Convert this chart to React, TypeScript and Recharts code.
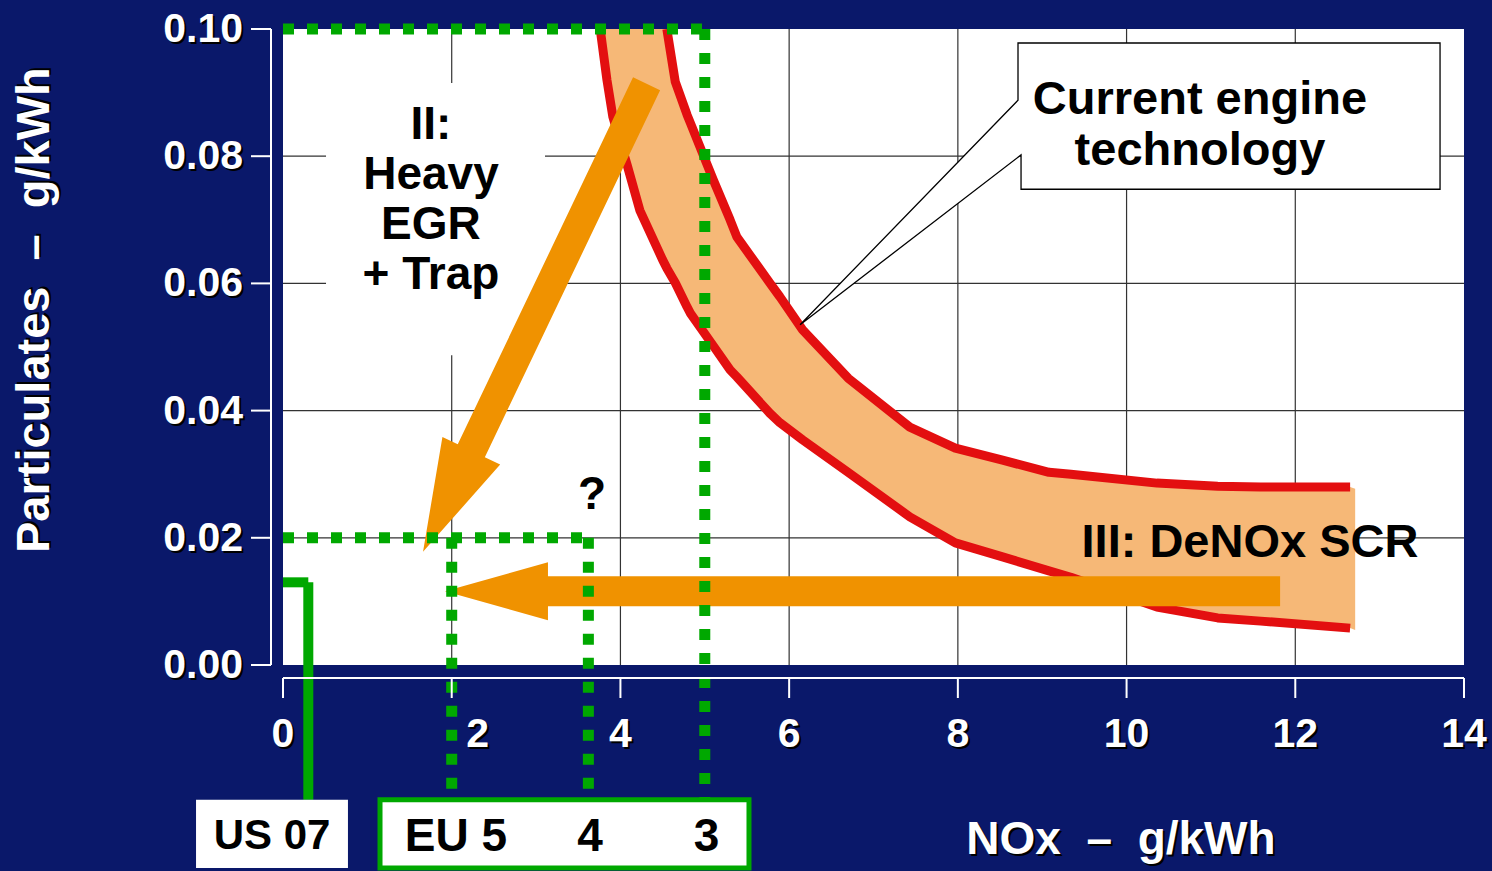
import React from 'react';
import {
  ComposedChart,
  XAxis,
  YAxis,
  CartesianGrid,
  Area,
  Line,
  ReferenceLine,
  ReferenceArea,
  ReferenceDot,
} from 'recharts';

// ---------- data ----------
const NOX_TICKS = [0, 2, 4, 6, 8, 10, 12, 14];
const PM_TICKS = [0, 0.02, 0.04, 0.06, 0.08, 0.1];
const GRID_NOX = [2, 4, 6, 8, 10, 12];
const GRID_PM = [0.02, 0.04, 0.06, 0.08];

// "Current engine technology" band (NOx g/kWh -> PM g/kWh)
const BAND_NOX = [3.76, 3.84, 3.91, 4.08, 4.23, 4.5, 4.55, 4.65, 4.79, 4.83, 5.1, 5.3, 5.38, 5.77, 5.89, 6.16, 6.7, 7.43, 7.97, 8.53, 9.08, 9.34, 10.36, 11.08, 11.59, 12.65, 12.71];
const LOWER_CURVE = [0.1, 0.092, 0.0862, 0.0786, 0.0715, 0.0637, 0.0624, 0.0601, 0.0563, 0.0553, 0.0502, 0.0464, 0.0453, 0.0396, 0.0381, 0.0354, 0.0303, 0.0233, 0.0192, 0.017, 0.0148, 0.0138, 0.0091, 0.0074, 0.0069, 0.0058, null];
const UPPER_CURVE = [null, null, null, null, null, null, 0.1, 0.0917, 0.0865, 0.0852, 0.0763, 0.07, 0.0673, 0.0601, 0.0579, 0.0527, 0.0451, 0.0374, 0.0341, 0.0322, 0.0303, 0.03, 0.0286, 0.0281, 0.028, 0.028, null];
const BAND_LOW = [0.1, 0.092, 0.0862, 0.0786, 0.0715, 0.0637, 0.0624, 0.0601, 0.0563, 0.0553, 0.0502, 0.0464, 0.0453, 0.0396, 0.0381, 0.0354, 0.0303, 0.0233, 0.0192, 0.017, 0.0148, 0.0138, 0.0091, 0.0074, 0.0069, 0.0058, 0.0055];
const BAND_HIGH = [0.1, 0.1, 0.1, 0.1, 0.1, 0.1, 0.1, 0.0917, 0.0865, 0.0852, 0.0763, 0.07, 0.0673, 0.0601, 0.0579, 0.0527, 0.0451, 0.0374, 0.0341, 0.0322, 0.0303, 0.03, 0.0286, 0.0281, 0.028, 0.028, 0.0277];

// emission limits
const EU_LABELS = ['EU 5', '4', '3'];
const EU_NOX = [2.0, 3.62, 5.0];
const EU_PM = [0.02, 0.02, 0.1];
const US07_NOX = 0.3;
const US07_PM = 0.013;

// arrows (tail -> tip)
const EGR_ARROW_NOX = [4.31, 1.66];
const EGR_ARROW_PM = [0.0914, 0.0178];
const SCR_ARROW_NOX = [11.82, 1.92];
const SCR_ARROW_PM = [0.0116, 0.0116];

// callout outline (data coords)
const CALLOUT_NOX = [6.13, 8.713, 8.713, 13.716, 13.716, 8.749, 8.749];
const CALLOUT_PM = [0.0535, 0.0888, 0.0978, 0.0978, 0.0748, 0.0748, 0.0802];

const rows = BAND_NOX.map((nox, i) => ({
  nox,
  lower: LOWER_CURVE[i],
  upper: UPPER_CURVE[i],
  band: [BAND_LOW[i], BAND_HIGH[i]],
}));

// ---------- style ----------
const NAVY = '#0a186a';
const ORANGE = '#f09200';
const BAND_FILL = '#f6b877';
const RED = '#e30f10';
const GREEN = '#00a800';
const FONT = '"Liberation Sans", Arial, Helvetica, sans-serif';
const W = 1492;
const H = 871;
const BOX_TOP = -0.0212;
const BOX_BOTTOM = -0.0319;
const NB = '\u00A0';

const ShadowText = ({ x, y, children, size, anchor = 'middle', rotate = 0 }: any) => (
  <g transform={rotate ? `rotate(${rotate} ${x} ${y})` : undefined}>
    <text x={x + 2} y={y + 2} fill="#000" fontFamily={FONT} fontWeight="bold" fontSize={size} textAnchor={anchor} dominantBaseline="central">
      {children}
    </text>
    <text x={x} y={y} fill="#fff" fontFamily={FONT} fontWeight="bold" fontSize={size} textAnchor={anchor} dominantBaseline="central">
      {children}
    </text>
  </g>
);

const YTick = (props: any) => {
  const { x, y, payload } = props;
  return (
    <g>
      <line x1={x + 8} y1={y} x2={x + 28} y2={y} stroke="#fff" strokeWidth={2} />
      <ShadowText x={x} y={y - 1} anchor="end" size={41}>
        {Number(payload.value).toFixed(2)}
      </ShadowText>
    </g>
  );
};

const XTick = (props: any) => {
  const { x, y, payload } = props;
  const dx = payload.value === 2 ? 26 : 0;
  return (
    <g>
      <line x1={x} y1={y + 13} x2={x} y2={y + 33} stroke="#fff" strokeWidth={2} />
      <ShadowText x={x + dx} y={y + 68} size={41}>
        {String(payload.value)}
      </ShadowText>
    </g>
  );
};

const arrowShape = (shaft: number, headW: number, headL: number) => (p: any) => {
  const { x1, y1, x2, y2 } = p;
  const dx = x2 - x1;
  const dy = y2 - y1;
  const L = Math.hypot(dx, dy) || 1;
  const ux = dx / L;
  const uy = dy / L;
  const nx = -uy;
  const ny = ux;
  const bx = x2 - ux * headL;
  const by = y2 - uy * headL;
  const pts = [
    [x1 + (nx * shaft) / 2, y1 + (ny * shaft) / 2],
    [bx + (nx * shaft) / 2, by + (ny * shaft) / 2],
    [bx + (nx * headW) / 2, by + (ny * headW) / 2],
    [x2, y2],
    [bx - (nx * headW) / 2, by - (ny * headW) / 2],
    [bx - (nx * shaft) / 2, by - (ny * shaft) / 2],
    [x1 - (nx * shaft) / 2, y1 - (ny * shaft) / 2],
  ]
    .map((q) => q.join(','))
    .join(' ');
  return <polygon points={pts} fill={ORANGE} stroke="none" />;
};

// polygon in data coordinates, converted with the two mapped endpoints of the segment
const calloutShape = (p: any) => {
  const { x1, y1, x2, y2 } = p;
  const a = 0;
  const b = 3;
  const sx = (x2 - x1) / (CALLOUT_NOX[b] - CALLOUT_NOX[a]);
  const sy = (y2 - y1) / (CALLOUT_PM[b] - CALLOUT_PM[a]);
  const pts = CALLOUT_NOX.map((n, i) => `${x1 + (n - CALLOUT_NOX[a]) * sx},${y1 + (CALLOUT_PM[i] - CALLOUT_PM[a]) * sy}`).join(' ');
  return <polygon points={pts} fill="#fff" stroke="#000" strokeWidth={1.3} />;
};

// straight axis lines, offset from the plot like the original
const axisLineShape = (dx: number, dy: number) => (p: any) => {
  const { x1, y1, x2, y2 } = p;
  return <line x1={x1 + dx} y1={y1 + dy} x2={x2 + dx} y2={y2 + dy} stroke="#fff" strokeWidth={2} />;
};

const textShape = (lines: string[], size: number, lineH: number, color = '#000', shadow = false, rotate = 0) => (p: any) => {
  const { cx, cy } = p;
  if (shadow) {
    return (
      <ShadowText x={cx} y={cy} size={size} rotate={rotate}>
        {lines[0]}
      </ShadowText>
    );
  }
  return (
    <g>
      {lines.map((t, i) => (
        <text
          key={i}
          x={cx}
          y={cy + i * lineH}
          fill={color}
          fontFamily={FONT}
          fontWeight="bold"
          fontSize={size}
          textAnchor="middle"
          dominantBaseline="central"
        >
          {t}
        </text>
      ))}
    </g>
  );
};

const dotted = { stroke: GREEN, strokeWidth: 11, strokeDasharray: '11 13' };

export default function App() {
  return (
    <div style={{ position: 'absolute', left: 0, top: 0, width: W, height: H, background: NAVY, overflow: 'hidden' }}>
      <ComposedChart width={W} height={H} data={rows} margin={{ top: 29, right: 28, bottom: 116, left: 223 }}>
        <CartesianGrid
          fill="#ffffff"
          fillOpacity={1}
          stroke="#333"
          strokeWidth={1.2}
          horizontalValues={GRID_PM}
          verticalValues={GRID_NOX}
        />
        <XAxis
          dataKey="nox"
          type="number"
          domain={[0, 14]}
          ticks={NOX_TICKS}
          interval={0}
          allowDataOverflow
          height={90}
          tickSize={0}
          tickMargin={0}
          axisLine={false}
          tickLine={false}
          tick={<XTick />}
        />
        <YAxis
          type="number"
          domain={[0, 0.1]}
          ticks={PM_TICKS}
          interval={0}
          allowDataOverflow
          width={60}
          tickSize={0}
          tickMargin={40}
          axisLine={false}
          tickLine={false}
          tick={<YTick />}
        />

        {/* axis lines */}
        <ReferenceLine segment={[{ x: 0, y: 0 }, { x: 0, y: 0.1 }]} ifOverflow="visible" shape={axisLineShape(-12, 0)} zIndex={500} />
        <ReferenceLine segment={[{ x: 0, y: 0 }, { x: 14, y: 0 }]} ifOverflow="visible" shape={axisLineShape(0, 13)} zIndex={500} />

        {/* white background behind the "II" label */}
        <ReferenceArea x1={0.51} x2={3.106} y1={0.0487} y2={0.0915} fill="#fff" fillOpacity={1} stroke="none" zIndex={50} />

        <Area type="linear" dataKey="band" fill={BAND_FILL} fillOpacity={1} stroke="none" isAnimationActive={false} zIndex={100} />
        <Line type="linear" dataKey="lower" stroke={RED} strokeWidth={9} dot={false} activeDot={false} strokeLinejoin="round" isAnimationActive={false} zIndex={400} />
        <Line type="linear" dataKey="upper" stroke={RED} strokeWidth={9} dot={false} activeDot={false} strokeLinejoin="round" isAnimationActive={false} zIndex={400} />

        {/* callout */}
        <ReferenceLine
          segment={[
            { x: CALLOUT_NOX[0], y: CALLOUT_PM[0] },
            { x: CALLOUT_NOX[3], y: CALLOUT_PM[3] },
          ]}
          ifOverflow="visible"
          shape={calloutShape}
          zIndex={450}
        />

        {/* arrows */}
        <ReferenceLine
          segment={[
            { x: EGR_ARROW_NOX[0], y: EGR_ARROW_PM[0] },
            { x: EGR_ARROW_NOX[1], y: EGR_ARROW_PM[1] },
          ]}
          ifOverflow="visible"
          shape={arrowShape(30, 64, 112)}
          zIndex={460}
        />
        <ReferenceLine
          segment={[
            { x: SCR_ARROW_NOX[0], y: SCR_ARROW_PM[0] },
            { x: SCR_ARROW_NOX[1], y: SCR_ARROW_PM[1] },
          ]}
          ifOverflow="visible"
          shape={arrowShape(30, 58, 103)}
          zIndex={460}
        />

        {/* EU limit lines */}
        <ReferenceLine segment={[{ x: 0, y: EU_PM[2] }, { x: EU_NOX[2], y: EU_PM[2] }]} ifOverflow="visible" {...dotted} zIndex={470} />
        <ReferenceLine segment={[{ x: 0, y: EU_PM[0] }, { x: EU_NOX[1], y: EU_PM[1] }]} ifOverflow="visible" {...dotted} zIndex={470} />
        {EU_NOX.map((n, i) => (
          <ReferenceLine key={'eu' + i} segment={[{ x: n, y: EU_PM[i] }, { x: n, y: BOX_TOP }]} ifOverflow="visible" {...dotted} zIndex={470} />
        ))}
        {/* US 07 limit */}
        <ReferenceLine segment={[{ x: 0, y: US07_PM }, { x: US07_NOX, y: US07_PM }]} ifOverflow="visible" stroke={GREEN} strokeWidth={10} zIndex={470} />
        <ReferenceLine segment={[{ x: US07_NOX, y: US07_PM }, { x: US07_NOX, y: BOX_TOP }]} ifOverflow="visible" stroke={GREEN} strokeWidth={10} zIndex={470} />

        {/* limit boxes */}
        <ReferenceArea x1={-1.031} x2={0.77} y1={BOX_TOP} y2={BOX_BOTTOM} ifOverflow="visible" fill="#fff" fillOpacity={1} stroke="none" zIndex={480} />
        <ReferenceArea x1={1.15} x2={5.524} y1={BOX_TOP} y2={BOX_BOTTOM} ifOverflow="visible" fill="#fff" fillOpacity={1} stroke={GREEN} strokeWidth={5} zIndex={480} />

        {/* texts */}
        <ReferenceDot x={-0.13} y={-0.0267} r={1} ifOverflow="visible" shape={textShape(['US 07'], 42, 0)} zIndex={1900} />
        {EU_LABELS.map((t, i) => (
          <ReferenceDot key={'lab' + i} x={EU_NOX[i] + (i === 0 ? 0.05 : 0.02)} y={-0.0267} r={1} ifOverflow="visible" shape={textShape([t], 46, 0)} zIndex={1900} />
        ))}
        <ReferenceDot x={1.754} y={0.0852} r={1} ifOverflow="visible" shape={textShape(['II:', 'Heavy', 'EGR', '+ Trap'], 46, 50)} zIndex={1900} />
        <ReferenceDot x={3.663} y={0.027} r={1} ifOverflow="visible" shape={textShape(['?'], 46, 0)} zIndex={1900} />
        <ReferenceDot x={11.463} y={0.01965} r={1} ifOverflow="visible" shape={textShape(['III: DeNOx SCR'], 47, 0)} zIndex={1900} />
        <ReferenceDot x={10.87} y={0.0893} r={1} ifOverflow="visible" shape={textShape(['Current engine', 'technology'], 47, 51)} zIndex={1900} />
        <ReferenceDot x={9.934} y={-0.0272} r={1} ifOverflow="visible" shape={textShape([`NOx${NB}${NB}\u2013${NB}${NB}g/kWh`], 46, 0, '#fff', true)} zIndex={1900} />
        <ReferenceDot x={-2.964} y={0.0558} r={1} ifOverflow="visible" shape={textShape([`Particulates${NB}${NB}\u2013${NB}${NB}g/kWh`], 47, 0, '#fff', true, -90)} zIndex={1900} />
      </ComposedChart>
    </div>
  );
}
